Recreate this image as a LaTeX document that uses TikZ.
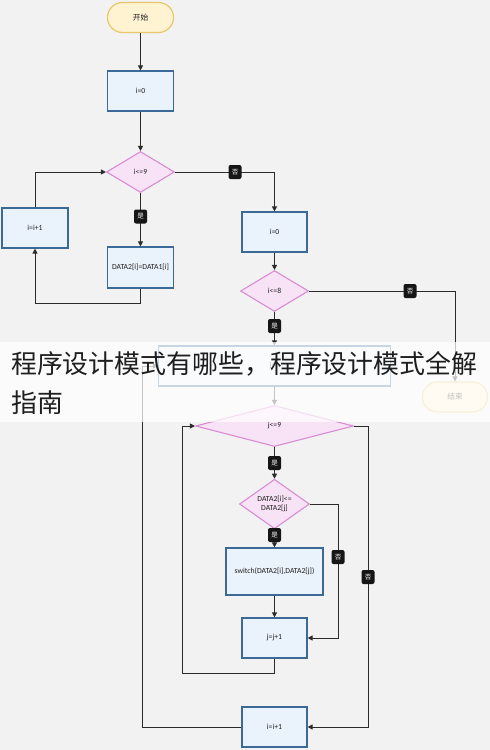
\documentclass[tikz,border=0pt]{standalone}
\usepackage{fontspec}
\setmainfont{Carlito}
\newfontfamily\cjk{Noto Sans CJK SC}
\usetikzlibrary{shapes.geometric,arrows.meta,calc}
\definecolor{bgc}{HTML}{F2F2F2}
\definecolor{startfill}{HTML}{FFF3D2}
\definecolor{startdraw}{HTML}{E8C76C}
\definecolor{boxfill}{HTML}{EAF2FB}
\definecolor{boxdraw}{HTML}{3B6A98}
\definecolor{dfill}{HTML}{F8E2F6}
\definecolor{ddraw}{HTML}{D88DD3}
\definecolor{linec}{HTML}{2B2B2B}
\definecolor{lblc}{HTML}{161616}
\definecolor{bannertext}{HTML}{1E1E1E}
\tikzset{
  txt/.style={font=\fontsize{7.7}{8.5}\selectfont, text=black!88, align=center},
  startbox/.style={txt, draw=startdraw, fill=startfill, line width=1.2pt, rounded corners=15pt, minimum width=66pt, minimum height=30pt, inner sep=0pt},
  procbox/.style={txt, draw=boxdraw, fill=boxfill, line width=1.2pt, inner sep=0pt},
  decis/.style={txt, diamond, draw=ddraw, fill=dfill, line width=1.1pt, inner sep=0pt},
  conn/.style={draw=linec, line width=1pt, -{Triangle[length=5pt,width=5pt]}},
  plain/.style={draw=linec, line width=1pt},
  lbl/.style={fill=lblc, text=white, rounded corners=2pt, inner sep=0pt, minimum width=13pt, minimum height=14pt, font=\cjk\fontsize{6.5}{6.5}\selectfont}
}
\begin{document}
\begin{tikzpicture}[x=1pt,y=-1pt]
\fill[bgc] (0,0) rectangle (490,750);
\useasboundingbox (0,0) rectangle (490,750);
% nodes
\node[startbox] (start) at (140.5,17.5) {\cjk 开始};
\node[procbox, minimum width=66pt, minimum height=40pt] (a1) at (140.5,91) {i=0};
\node[decis, minimum width=68pt, minimum height=41pt] (d1) at (140.5,172) {i\textless=9};
\node[procbox, minimum width=66pt, minimum height=40pt] (inc1) at (35,228) {i=i+1};
\node[procbox, minimum width=66pt, minimum height=41pt] (copy) at (140.5,267.5) {DATA2[i]=DATA1[i]};
\node[procbox, minimum width=65pt, minimum height=40pt] (b2) at (274.5,232) {i=0};
\node[decis, minimum width=68pt, minimum height=41pt] (d2) at (274.5,291) {i\textless=8};
\node[startbox, minimum width=65pt] (endn) at (455,397) {\cjk 结束};
\node[procbox, minimum width=232pt, minimum height=40pt] (jbox) at (274.5,366) {j=0};
\node[decis, minimum width=158pt, minimum height=41pt] (d3) at (274.5,426) {j\textless=9};
\node[decis, minimum width=70pt, minimum height=42pt] (d4) at (274.5,504) {DATA2[i]\textless=\\DATA2[j]};
\node[procbox, minimum width=97pt, minimum height=47pt] (sw) at (274.5,571.5) {switch(DATA2[i],DATA2[j])};
\node[procbox, minimum width=65pt, minimum height=40pt] (jinc) at (274.5,638) {j=j+1};
\node[procbox, minimum width=65pt, minimum height=40pt] (iinc) at (274.5,727) {i=i+1};
% helper coordinates
\coordinate (c1) at (35,303);
\coordinate (c2) at (182,673);
\coordinate (c3) at (142,727);
\coordinate (c4) at (338,504);
\coordinate (c5) at (368,426);
% connectors
\draw[conn] (start) -- (a1);
\draw[conn] (a1) -- (d1);
\draw[conn] (d1) -- (copy);
\draw[plain] (copy.south) |- (c1);
\draw[conn] (c1) -- (inc1.south);
\draw[conn] (inc1.north) |- (d1.west);
\draw[conn] (d1.east) -| (b2.north);
\draw[conn] (b2) -- (d2);
\draw[conn] (d2) -- (jbox);
\draw[conn] (d2.east) -| (endn.north);
\draw[conn] (jbox) -- (d3);
\draw[conn] (d3) -- (d4);
\draw[conn] (d4) -- (sw);
\draw[conn] (sw) -- (jinc);
\draw[plain] (d4.east) -- (c4);
\draw[conn] (c4) |- (jinc.east);
\draw[plain] (jinc.south) |- (c2);
\draw[conn] (c2) |- (d3.west);
\draw[plain] (d3.east) -- (c5);
\draw[conn] (c5) |- (iinc.east);
\draw[plain] (iinc.west) -- (c3);
\draw[conn] (c3) |- (jbox.west);
% labels
\node[lbl] (l1) at (140.5,216.5) {是};
\node[lbl] (l2) at (235,172) {否};
\node[lbl] (l3) at (274.5,326) {是};
\node[lbl] (l4) at (410,291) {否};
\node[lbl] (l5) at (274.5,463) {是};
\node[lbl] (l6) at (274.5,535) {是};
\node[lbl] (l7) at (338,557) {否};
\node[lbl] (l8) at (368,577) {否};
% banner overlay
\fill[white, opacity=0.72] (0,342) rectangle (490,422);
\node[anchor=west, inner sep=0pt, text=bannertext, font=\cjk\fontsize{25.9}{39}\selectfont] (t1) at (11,364) {程序设计模式有哪些，程序设计模式全解};
\node[anchor=west, inner sep=0pt, text=bannertext, font=\cjk\fontsize{25.9}{39}\selectfont] (t2) at (11,403) {指南};
\end{tikzpicture}
\end{document}
